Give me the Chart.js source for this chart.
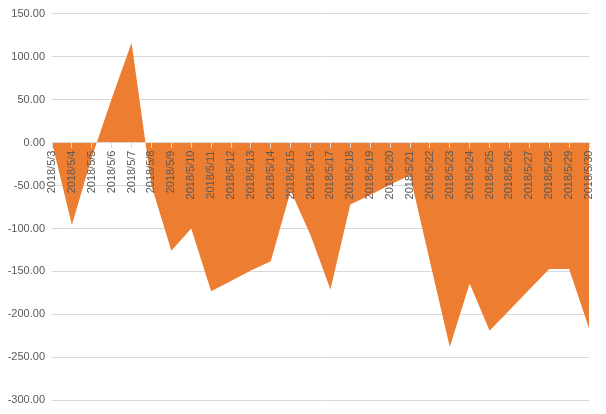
<!DOCTYPE html>
<html>
<head>
<meta charset="utf-8">
<script src="https://cdn.jsdelivr.net/npm/chart.js@4.4.1/dist/chart.umd.min.js"></script>
<style>
    html, body { margin: 0; padding: 0; background: #fff; }
    .chart-box { width: 606px; height: 414px; }
</style>
</head>
<body>
<div class="chart-box"><canvas id="chartDaily"></canvas></div>
<script>
// 날짜
const categories = [
    '2018/5/3', '2018/5/4', '2018/5/5', '2018/5/6', '2018/5/7', '2018/5/8', '2018/5/9',
    '2018/5/10', '2018/5/11', '2018/5/12', '2018/5/13', '2018/5/14', '2018/5/15', '2018/5/16',
    '2018/5/17', '2018/5/18', '2018/5/19', '2018/5/20', '2018/5/21', '2018/5/22', '2018/5/23',
    '2018/5/24', '2018/5/25', '2018/5/26', '2018/5/27', '2018/5/28', '2018/5/29', '2018/5/30'
];

// 값
const values = [
    0, -96, -17, 51, 116, -50, -126,
    -100, -173, -161, -149, -138, -56, -108,
    -171, -72, -61, -49, -38, -138, -238,
    -164, -219, -195, -171, -147, -147, -216
];

// y축 눈금
const yTicks = [-300, -250, -200, -150, -100, -50, 0, 50, 100, 150];

const labelColor = '#595959';
const gridColor = '#d9d9d9';

// chart config
function getChart(id, type, data, options) {
    const ctx = document.getElementById(id);

    new Chart(ctx, {
        type: type,
        data: data,
        options: options
    });
}

const dailyData = {
    labels: categories,
    datasets: [{
        data: values,
        backgroundColor: '#ED7D31',
        borderWidth: 0,
        pointRadius: 0,
        fill: 'origin',
        tension: 0
    }]
};

const dailyOptions = {
    maintainAspectRatio: false,
    responsive: true,
    animation: false,
    layout: {
        padding: { top: 13, bottom: 13, left: 0, right: 17 }
    },
    plugins: {
        legend: { display: false },
        tooltip: { enabled: false }
    },
    scales: {
        x: {
            position: { y: 0 },
            offset: false,
            grid: {
                z: 1, // 영역 위에 그리기
                drawOnChartArea: false,
                drawTicks: true,
                tickLength: 5,
                color: gridColor
            },
            border: { z: 1, display: true, color: gridColor, width: 1 },
            ticks: {
                z: 1,
                autoSkip: false,
                minRotation: 90,
                maxRotation: 90,
                padding: 3,
                color: labelColor,
                font: { family: 'Liberation Sans', size: 11 }
            }
        },
        y: {
            min: yTicks[0],
            max: yTicks[yTicks.length - 1],
            afterBuildTicks: (axis) => {
                axis.ticks = yTicks.map(v => ({ value: v }));
            },
            afterFit: (axis) => {
                axis.width = 52;
            },
            grid: {
                drawTicks: false,
                color: gridColor
            },
            border: { display: false },
            ticks: {
                padding: 7,
                color: labelColor,
                font: { family: 'Liberation Sans', size: 11 },
                callback: (v) => Number(v).toFixed(2)
            }
        }
    }
};

window.addEventListener('DOMContentLoaded', function() {
    getChart('chartDaily', 'line', dailyData, dailyOptions);
});
</script>
</body>
</html>
